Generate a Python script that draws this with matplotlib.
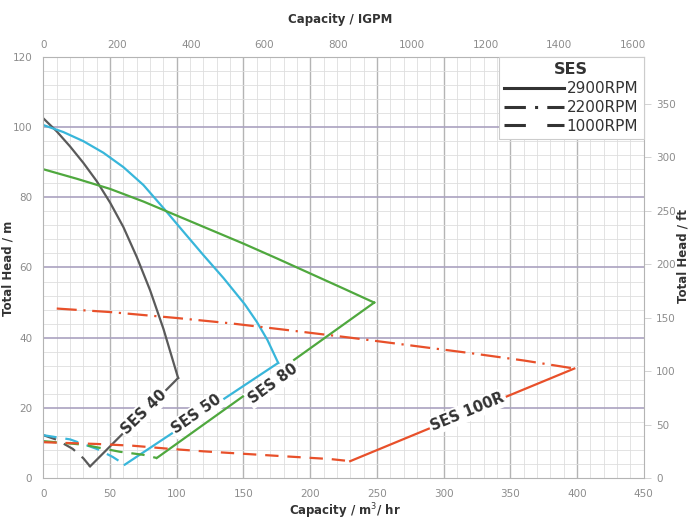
import numpy as np
import matplotlib.pyplot as plt
from matplotlib.lines import Line2D

# SES 40 (grey)
ses40_q_2900 = [0, 10, 20, 30, 40, 50, 60, 70, 80, 90, 101]
ses40_h_2900 = [102.5, 98.8, 94.5, 89.8, 84.6, 78.5, 71.5, 63, 53.5, 42.5, 28.5]
ses40_q_1000 = [0, 10, 22, 30, 35]
ses40_h_1000 = [12.2, 10.9, 8.3, 5.6, 3.3]

# SES 50 (cyan)
ses50_q_2900 = [0, 15, 30, 45, 60, 75, 91, 105, 120, 135, 151, 160, 168, 176]
ses50_h_2900 = [100.6, 98.6, 96, 92.7, 88.6, 83.5, 76.5, 70.2, 63.5, 57, 49.5, 44.5, 39.3, 32.8]
ses50_q_1000 = [0, 20, 40, 52, 61]
ses50_h_1000 = [12.2, 11, 8.3, 6, 3.8]

# SES 80 (green)
ses80_q_2900 = [0, 25, 50, 75, 100, 125, 150, 175, 200, 225, 248]
ses80_h_2900 = [88, 85.3, 82.4, 78.8, 74.8, 70.8, 66.8, 62.6, 58.3, 54, 50]
ses80_q_1000 = [0, 30, 57, 75, 85]
ses80_h_1000 = [10.5, 9.5, 7.5, 6.6, 5.7]

# SES 100R (orange-red)
ses100_q_2200 = [10, 50, 100, 140, 180, 230, 275, 320, 360, 398]
ses100_h_2200 = [48.3, 47.3, 45.6, 44.1, 42.3, 40, 37.8, 35.6, 33.5, 31.2]
ses100_q_1000 = [0, 40, 67, 95, 120, 150, 180, 215, 230]
ses100_h_1000 = [10.2, 9.7, 9.2, 8.3, 7.6, 6.9, 6.2, 5.4, 4.8]

labels = ["SES 40", "SES 50", "SES 80", "SES 100R"]
label_q = [75.5, 115, 172, 318]
label_h = [18.8, 18.2, 26.8, 18.8]
label_rot = [44, 35, 36, 22.5]

igpm_ticks = [0, 200, 400, 600, 800, 1000, 1200, 1400, 1600]
ft_ticks = [0, 50, 100, 150, 200, 250, 300, 350]

c40 = '#5a5a5a'
c50 = '#38b6da'
c80 = '#4fa83e'
c100 = '#e8502a'
tick_col = '#8c8c8c'

solid = '-'
dashdot = (0, (9, 3, 1, 3))
dashed = (0, (6, 4))

fig = plt.figure(figsize=(6.91, 5.22), dpi=100)
ax = fig.add_axes([0.0628, 0.0843, 0.8687, 0.8065])
ax.set_xlim(0, 450)
ax.set_ylim(0, 120)

# grid
for x in np.arange(10, 450, 10):
	if x % 50:
		ax.axvline(x, color='#dedede', lw=0.6, zorder=0)
	else:
		ax.axvline(x, color='#b4b4b4', lw=1.0, zorder=0)
for y in np.arange(4, 120, 4):
	if y % 20:
		ax.axhline(y, color='#dedede', lw=0.6, zorder=0)
	else:
		ax.axhline(y, color='#aaa2c0', lw=1.2, zorder=0)

lw = 1.6
ax.plot(ses40_q_2900, ses40_h_2900, color=c40, lw=lw, ls=solid)
ax.plot([ses40_q_2900[-1], ses40_q_1000[-1]], [ses40_h_2900[-1], ses40_h_1000[-1]], color=c40, lw=lw)
ax.plot(ses40_q_1000, ses40_h_1000, color=c40, lw=lw, ls=dashed)

ax.plot(ses50_q_2900, ses50_h_2900, color=c50, lw=lw, ls=solid)
ax.plot([ses50_q_2900[-1], ses50_q_1000[-1]], [ses50_h_2900[-1], ses50_h_1000[-1]], color=c50, lw=lw)
ax.plot(ses50_q_1000, ses50_h_1000, color=c50, lw=lw, ls=dashed)

ax.plot(ses80_q_2900, ses80_h_2900, color=c80, lw=lw, ls=solid)
ax.plot([ses80_q_2900[-1], ses80_q_1000[-1]], [ses80_h_2900[-1], ses80_h_1000[-1]], color=c80, lw=lw)
ax.plot(ses80_q_1000, ses80_h_1000, color=c80, lw=lw, ls=dashed)

ax.plot(ses100_q_2200, ses100_h_2200, color=c100, lw=lw, ls=dashdot)
ax.plot([ses100_q_2200[-1], ses100_q_1000[-1]], [ses100_h_2200[-1], ses100_h_1000[-1]], color=c100, lw=lw)
ax.plot(ses100_q_1000, ses100_h_1000, color=c100, lw=lw, ls=dashed)

for txt, q, h, r in zip(labels, label_q, label_h, label_rot):
	ax.text(q, h, txt, rotation=r, ha='center', va='center', fontsize=10.5, fontweight='bold',
		color='#333333', bbox=dict(facecolor='white', edgecolor='none', pad=1.5), zorder=5)

# axes cosmetics
for s in ax.spines.values():
	s.set_color('#b4b4b4')
ax.set_xticks(np.arange(0, 451, 50))
ax.set_yticks(np.arange(0, 121, 20))
ax.tick_params(colors=tick_col, labelsize=7.5, length=0, pad=8)

top = ax.secondary_xaxis('top', functions=(lambda q: q*3.62, lambda g: g/3.62))
top.set_xticks(igpm_ticks)
top.tick_params(colors=tick_col, labelsize=7.5, length=0, pad=5)
top.spines['top'].set_visible(False)

right = ax.secondary_yaxis('right', functions=(lambda m: m*3.281, lambda f: f/3.281))
right.set_yticks(ft_ticks)
right.tick_params(colors=tick_col, labelsize=7.5, length=5, width=0.6, pad=4)
right.tick_params(color='#cccccc')
right.spines['right'].set_visible(False)

fig.text(0.492, 0.963, "Capacity / IGPM", ha='center', va='center', fontsize=8.5, fontweight='bold', color='#333333')
fig.text(0.5, 0.020, "Capacity / m$^3$/ hr", ha='center', va='center', fontsize=8.5, fontweight='bold', color='#333333')
fig.text(0.012, 0.485, "Total Head / m", ha='center', va='center', rotation=90, fontsize=8.5, fontweight='bold', color='#333333')
fig.text(0.988, 0.51, "Total Head / ft", ha='center', va='center', rotation=90, fontsize=8.5, fontweight='bold', color='#333333')

handles = [Line2D([], [], color='#333333', lw=2.2, ls=solid),
	Line2D([], [], color='#333333', lw=2.2, ls=(0, (7, 3, 1, 3))),
	Line2D([], [], color='#333333', lw=2.2, ls=(0, (7, 7)))]
leg = ax.legend(handles, ["2900RPM", "2200RPM", "1000RPM"], loc='upper right', title="SES",
	fontsize=11, handlelength=3.9, handletextpad=0.2, labelspacing=0.25, borderpad=0.35,
	borderaxespad=0, fancybox=False, framealpha=1, edgecolor='#cccccc')
leg.get_title().set_fontweight('bold')
leg.get_title().set_fontsize(11.5)
leg.get_title().set_color('#333333')
for t in leg.get_texts():
	t.set_color('#333333')
leg.get_frame().set_linewidth(0.8)

fig.savefig("out.png", dpi=100)
